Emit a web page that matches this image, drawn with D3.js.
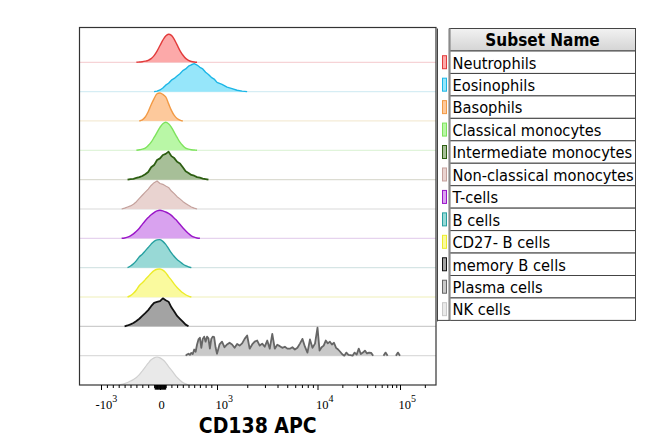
<!DOCTYPE html>
<html>
<head>
<meta charset="utf-8">
<script src="https://cdn.jsdelivr.net/npm/d3@7"></script>
<style>
  html, body { margin: 0; padding: 0; background: #fff; }
  svg { display: block; }
</style>
</head>
<body>
<svg id="chart" width="650" height="448"></svg>
<script>
// ---------------- DATA ----------------
const subsets = ["Neutrophils", "Eosinophils", "Basophils", "Classical monocytes",
  "Intermediate monocytes", "Non-classical monocytes", "T-cells", "B cells",
  "CD27- B cells", "memory B cells", "Plasma cells", "NK cells"];

// histogram bins on the display (biexponential) scale: first bin centre and bin width per subset
const binStart = [-0.40, -0.10, -0.35, -0.40, -0.55, -0.65, -0.65, -0.55, -0.55, -0.60, 0.45, -0.70];
const binWidth = [0.05, 0.05, 0.05, 0.05, 0.05, 0.05, 0.05, 0.05, 0.05, 0.05, 0.025, 0.05];

// counts, % of mode
const neutrophils = [0,1,2,4,7,13,24,40,60,79,94,100,96,82,62,42,26,14,7,3,1,0];
const eosinophils = [0,2,6,13,23,30,41,47,56,64,75,81,91,96,100,95,87,81,69,61,51,45,33,26,16,11,5,2,0];
const basophils = [0,4,14,33,58,80,97,100,95,86,62,38,20,9,3,0];
const classicalMono = [0,2,4,8,17,29,46,64,82,95,100,95,82,64,46,29,17,8,4,2,1,0];
const intermediateMono = [0,2,3,6,9,13,19,27,44,52,70,76,88,92,100,84,77,64,58,44,30,24,17,14,9,7,4,2,0];
const nonClassicalMono = [0,3,7,11,17,26,38,49,60,71,84,94,100,91,88,82,77,64,55,44,36,27,20,13,7,3,0];
const tCells = [0,1,4,9,16,25,36,50,63,74,84,92,98,100,98,94,89,82,72,62,50,38,27,17,9,4,1,0];
const bCells = [0,6,14,25,39,48,60,72,84,94,99,100,94,83,68,53,40,29,21,13,7,3,0];
const cd27negB = [0,5,13,25,41,51,62,73,85,94,99,100,96,87,73,60,46,34,24,15,8,3,0];
const memoryB = [0,3,7,12,19,27,37,47,58,72,84,87,90,100,93,88,68,53,37,27,17,6,0];
const plasmaCells = [
  0,4,7,3,10,6,22,14,40,58,
  64,28,60,68,50,68,62,25,60,68,
  66,30,7,40,50,30,40,46,40,28,
  42,36,44,60,72,25,40,50,54,36,
  43,32,54,25,78,25,39,34,28,32,
  25,25,30,22,28,43,60,32,11,58,
  28,43,100,18,30,36,54,44,50,40,
  46,28,22,14,5,0,11,3,2,0,
  11,4,25,6,11,18,8,11,10,0,
  0,0,0,0,0,11,0,0,0,0,
  0,11,0];
const nkCells = [0,2,5,9,14,20,27,37,50,64,78,90,97,100,97,90,80,66,53,40,27,17,9,4,0];

const counts = [neutrophils, eosinophils, basophils, classicalMono, intermediateMono,
  nonClassicalMono, tCells, bCells, cd27negB, memoryB, plasmaCells, nkCells];

// axis ticks (CD138 APC values)
const majorTickValues = [-1000, 0, 1000, 10000, 100000];
const majorTickBase = ["-10", "0", "10", "10", "10"];
const majorTickExp = ["3", "", "3", "4", "5"];
const minorTickValues = [-900,-800,-700,-600,-500,-400,-300,-200,-100,
  -90,-80,-70,-60,-50,-40,-30,-20,-10,0,10,20,30,40,50,60,70,80,90,
  100,200,300,400,500,600,700,800,900,
  2000,3000,4000,5000,6000,7000,8000,9000,
  20000,30000,40000,50000,60000,70000,80000,90000, 200000];

// ---------------- STYLE ----------------
const strokeCol = ["#e23b3b","#1cb6e6","#f29a45","#7de35c","#2d5e12","#c4a19c",
  "#9a16c8","#26a0a0","#ecec2b","#111111","#666666","#d0d0d0"];
const fillCol = ["#fca9a9","#96e6fa","#fdc99c","#b9f7a6","#a7bf98","#e9d3d0",
  "#d9a2ef","#98d9d6","#fafa9e","#a3a3a3","#c9c9c9","#e9e9e9"];
const baseCol = ["#f6d3d6","#d6edf4","#f4ebd6","#e0f4da","#dcdcd2","#e6e6e6",
  "#e6d3ee","#d6e5e5","#f5f5d0","#cdcdcd","#dcdcdc","#dcdcdc"];
const jagged = [false,true,false,false,true,true,false,false,false,true,true,false];
const strokeW = [1.4,1.4,1.4,1.4,1.8,1.2,1.4,1.4,1.4,1.8,1.8,1.2];

// ---------------- SCALES ----------------
// biexponential-like display transform: linear within +-10^3, log beyond
function tr(v) {
  const a = Math.abs(v);
  if (a <= 1000) return v / 1000;
  return Math.sign(v) * (1 + Math.log10(a / 1000));
}
const plot = { left: 79.5, right: 436, top: 27.5, bottom: 385 };
const x = d3.scaleLinear()
  .domain(majorTickValues.map(tr))
  .range([101, 160, 217, 317.5, 400]);
const rowY = d3.scalePoint().domain(subsets).range([62.3, 385]);
const h = d3.scaleLinear().domain([0, 100]).range([0, 28]);

const svg = d3.select("#chart");

// baselines
const g = svg.append("g");
subsets.forEach((s, i) => {
  if (i === subsets.length - 1) return;
  g.append("line")
    .attr("x1", plot.left).attr("x2", plot.right)
    .attr("y1", rowY(s)).attr("y2", rowY(s))
    .attr("stroke", baseCol[i]).attr("stroke-width", 1.3);
});

// histograms
subsets.forEach((s, i) => {
  const c = counts[i];
  const pts = c.map((v, j) => [binStart[i] + j * binWidth[i], v]);
  const base = rowY(s);
  const curve = jagged[i] ? d3.curveLinear : d3.curveCatmullRom;
  const area = d3.area()
    .x(d => x(d[0])).y0(base).y1(d => base - h(d[1])).curve(curve);
  const line = d3.line()
    .defined((d, j) => d[1] > 0 || (j > 0 && c[j - 1] > 0) || (j < c.length - 1 && c[j + 1] > 0))
    .x(d => x(d[0])).y(d => base - h(d[1])).curve(curve);
  g.append("path").attr("d", area(pts)).attr("fill", fillCol[i]);
  g.append("path").attr("d", line(pts)).attr("fill", "none")
    .attr("stroke", strokeCol[i]).attr("stroke-width", strokeW[i])
    .attr("stroke-linejoin", "round");
});

// frame
svg.append("rect")
  .attr("x", plot.left).attr("y", plot.top)
  .attr("width", plot.right - plot.left).attr("height", plot.bottom - plot.top)
  .attr("fill", "none").attr("stroke", "#333").attr("stroke-width", 1.2);

// axis
const axMinor = d3.axisBottom(x).tickValues(minorTickValues.map(tr)).tickSize(3).tickFormat(() => "");
const axMajor = d3.axisBottom(x).tickValues(majorTickValues.map(tr)).tickSize(5).tickFormat(() => "");
const gMin = svg.append("g").attr("transform", `translate(0,${plot.bottom})`).call(axMinor);
const gMaj = svg.append("g").attr("transform", `translate(0,${plot.bottom})`).call(axMajor);
[gMin, gMaj].forEach(a => {
  a.select(".domain").remove();
  a.selectAll("line").attr("stroke", "#000").attr("stroke-width", 1);
});
gMin.selectAll(".tick").filter(d => Math.abs(d) < 0.095).select("line").attr("y2", 4.5).attr("stroke-width", 1.1);

const labG = svg.append("g").attr("font-family", "'Liberation Serif', serif").attr("font-size", 12.5).attr("fill", "#000");
majorTickValues.forEach((v, i) => {
  const px = x(tr(v));
  if (majorTickExp[i] === "") {
    labG.append("text").attr("x", px + 1.5).attr("y", 408.5).attr("text-anchor", "middle").text(majorTickBase[i]);
  } else {
    const neg = majorTickBase[i].startsWith("-");
    const t = labG.append("text").attr("x", px - 1.5 - (neg ? 4 : 0)).attr("y", 408.5);
    t.append("tspan").text(majorTickBase[i]);
    t.append("tspan").attr("dy", -7).attr("font-size", 10).text(majorTickExp[i]);
  }
});

// axis title
svg.append("text")
  .attr("x", (plot.left + plot.right) / 2).attr("y", 433)
  .attr("text-anchor", "middle")
  .attr("font-family", "'DejaVu Sans Condensed', 'DejaVu Sans', sans-serif")
  .attr("font-weight", "bold").attr("font-size", 21)
  .text("CD138 APC");

// ---------------- LEGEND ----------------
const leg = { x0: 437.5, sep: 449.5, x1: 635.5, top: 28.5, headerH: 22.5, rowH: 22.45 };
const defs = svg.append("defs");
const grad = defs.append("linearGradient").attr("id", "hdr").attr("x1", 0).attr("x2", 0).attr("y1", 0).attr("y2", 1);
grad.append("stop").attr("offset", "0%").attr("stop-color", "#f2f2f2");
grad.append("stop").attr("offset", "100%").attr("stop-color", "#d4d4d4");

const lg = svg.append("g");
const legBottom = leg.top + leg.headerH + subsets.length * leg.rowH;
lg.append("rect").attr("x", leg.sep).attr("y", leg.top).attr("width", leg.x1 - leg.sep).attr("height", leg.headerH)
  .attr("fill", "url(#hdr)").attr("stroke", "#444").attr("stroke-width", 1);
lg.append("text").attr("x", (leg.sep + leg.x1) / 2).attr("y", leg.top + 17.5)
  .attr("text-anchor", "middle")
  .attr("font-family", "'DejaVu Sans Condensed', 'DejaVu Sans', sans-serif")
  .attr("font-weight", "bold").attr("font-size", 17).text("Subset Name");

subsets.forEach((s, i) => {
  const y0 = leg.top + leg.headerH + i * leg.rowH;
  lg.append("rect").attr("x", leg.sep).attr("y", y0).attr("width", leg.x1 - leg.sep).attr("height", leg.rowH)
    .attr("fill", "#fff").attr("stroke", "#444").attr("stroke-width", 1);
  lg.append("text").attr("x", leg.sep + 3).attr("y", y0 + 17.5)
    .attr("font-family", "'DejaVu Sans Condensed', 'DejaVu Sans', sans-serif")
    .attr("font-size", 16.3).attr("fill", "#000").text(s);
  lg.append("rect").attr("x", 442.5).attr("y", y0 + leg.rowH / 2 - 6.5).attr("width", 4).attr("height", 13)
    .attr("fill", fillCol[i]).attr("stroke", strokeCol[i] === "#d0d0d0" ? "#c8c8c8" : strokeCol[i]).attr("stroke-width", 1);
});
lg.append("line").attr("x1", leg.x0).attr("x2", leg.x0).attr("y1", leg.top).attr("y2", legBottom + 1)
  .attr("stroke", "#444").attr("stroke-width", 1);
lg.append("line").attr("x1", leg.sep).attr("x2", leg.sep).attr("y1", leg.top).attr("y2", legBottom)
  .attr("stroke", "#8a8a8a").attr("stroke-width", 2.2);
lg.append("line").attr("x1", leg.x0).attr("x2", leg.sep).attr("y1", legBottom).attr("y2", legBottom)
  .attr("stroke", "#444").attr("stroke-width", 1);
</script>
</body>
</html>
